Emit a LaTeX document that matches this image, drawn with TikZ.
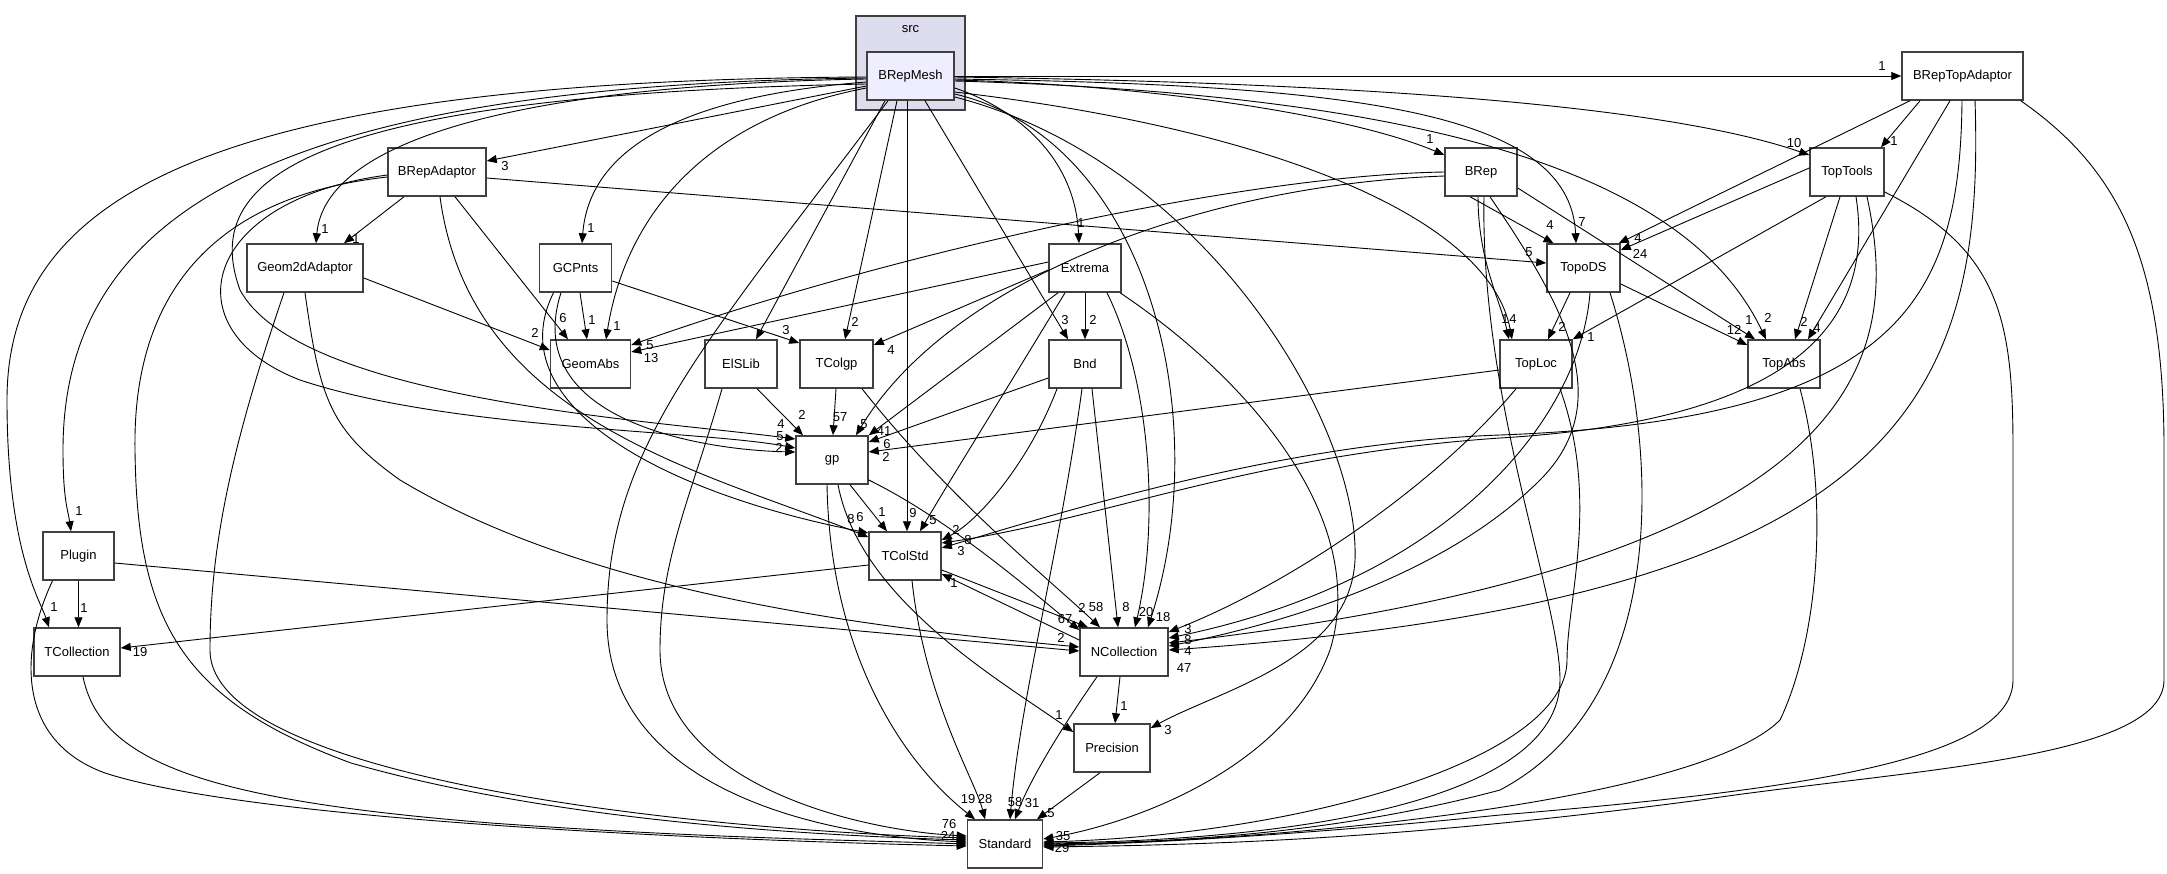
\documentclass[tikz,border=0pt]{standalone}
\usepackage{fontspec}
\setmainfont{Liberation Sans}
\usetikzlibrary{arrows.meta}
\definecolor{bord}{HTML}{404040}
\definecolor{clfill}{HTML}{DDDDEE}
\definecolor{bmfill}{HTML}{EEEEFF}
\begin{document}
\begin{tikzpicture}[x=1pt,y=-1pt,
  box/.style={draw=bord, line width=1.5pt, fill=white, minimum height=48pt, inner sep=0pt, font=\fontsize{13}{13}\selectfont},
  e/.style={line width=0.9pt, -{Triangle[length=10pt,width=8pt]}},
  lbl/.style={inner sep=0pt, text height=9.4pt, text depth=0pt, font=\fontsize{13}{13}\selectfont}]
\useasboundingbox[fill=white] (0,0) rectangle (2167,873);
% cluster
\node[draw=bord, line width=1.5pt, fill=clfill, minimum width=109pt, minimum height=94pt, inner sep=0pt] (cl) at (910.5,63) {};
\node[lbl] (srclbl) at (910.5,28) {src};
% nodes
\node[box, minimum width=87pt, fill=bmfill] (BM) at (910.5,76) {BRepMesh};
\node[box, minimum width=121pt] (BTA) at (1962.5,76) {BRepTopAdaptor};
\node[box, minimum width=98pt] (BA) at (437,172) {BRepAdaptor};
\node[box, minimum width=72pt] (BRep) at (1481,172) {BRep};
\node[box, minimum width=74pt] (TT) at (1847,172) {TopTools};
\node[box, minimum width=116pt] (G2A) at (305,268) {Geom2dAdaptor};
\node[box, minimum width=72pt] (GCP) at (575.5,268) {GCPnts};
\node[box, minimum width=72pt] (Ext) at (1085,268) {Extrema};
\node[box, minimum width=73pt] (TDS) at (1583.5,268) {TopoDS};
\node[box, minimum width=80pt] (GA) at (590.5,364) {GeomAbs};
\node[box, minimum width=72pt] (ELS) at (741,364) {ElSLib};
\node[box, minimum width=73pt] (TCgp) at (836.5,364) {TColgp};
\node[box, minimum width=72pt] (Bnd) at (1085,364) {Bnd};
\node[box, minimum width=72pt] (TL) at (1536,364) {TopLoc};
\node[box, minimum width=72pt] (TA) at (1784,364) {TopAbs};
\node[box, minimum width=72pt] (gp) at (832,460) {gp};
\node[box, minimum width=71pt] (Plugin) at (78.5,556) {Plugin};
\node[box, minimum width=72pt] (TCS) at (905,556) {TColStd};
\node[box, minimum width=86pt] (TC) at (77,652) {TCollection};
\node[box, minimum width=88pt] (NC) at (1124,652) {NCollection};
\node[box, minimum width=76pt] (Prec) at (1112,748) {Precision};
\node[box, minimum width=75pt] (Std) at (1005,844) {Standard};
% ---- edges from BRepMesh
\draw[e] (BM.east) -- (BTA.west);
\draw[e] ([yshift=-10pt]BM.west) -- ([yshift=11pt]BA.east);
\draw[e] ([yshift=-3pt]BM.west) .. controls (520,85) and (325,140) .. ([xshift=11pt]G2A.north);
\draw[e] ([yshift=-6pt]BM.west) .. controls (700,95) and (590,140) .. ([xshift=6.5pt]GCP.north);
\draw[e] ([yshift=-12pt]BM.west) .. controls (700,120) and (625,220) .. ([xshift=15.5pt]GA.north);
\draw[e] ([xshift=-25.5pt]BM.south) -- ([xshift=15pt]ELS.north);
\draw[e] ([xshift=-13.5pt]BM.south) -- ([xshift=8.5pt]TCgp.north);
\draw[e] ([xshift=-3.5pt]BM.south) -- ([xshift=2pt]TCS.north);
\draw[e] ([xshift=14.5pt]BM.south) -- ([xshift=-17pt]Bnd.north);
\draw[e] ([yshift=-12pt]BM.east) .. controls (1020,110) and (1075,160) .. ([xshift=-6pt]Ext.north);
\draw[e] ([yshift=-4pt]BM.east) .. controls (1150,85) and (1350,115) .. ([yshift=17pt]BRep.west);
\draw[e] ([yshift=-1pt]BM.east) .. controls (1300,82) and (1650,100) .. ([yshift=17pt]TT.west);
\draw[e] ([yshift=-3pt]BM.east) .. controls (1350,85) and (1570,110) .. ([xshift=-7.5pt]TDS.north);
\draw[e] ([yshift=-16pt]BM.east) .. controls (1280,130) and (1490,220) .. ([xshift=-24pt]TL.north);
\draw[e] ([yshift=-5pt]BM.east) .. controls (1450,95) and (1690,180) .. ([xshift=-18pt]TA.north);
\draw[e] ([yshift=-18pt]BM.east) .. controls (1150,140) and (1215,420) .. ([xshift=24pt]NC.north);
\draw[e] ([yshift=-21pt]BM.east) .. controls (1200,160) and (1360,420) .. (1355,560) .. controls (1350,660) and (1220,690) .. ([yshift=20pt]Prec.east);
\draw[e] ([xshift=-22.5pt]BM.south) .. controls (700,350) and (607,450) .. (607,620) .. controls (607,780) and (800,835) .. ([yshift=2pt]Std.west);
\draw[e] ([yshift=-8pt]BM.west) .. controls (300,95) and (200,180) .. (240,290) .. controls (300,400) and (650,420) .. ([yshift=21pt]gp.west);
\draw[e] ([yshift=-2pt]BM.west) .. controls (300,85) and (63,200) .. (63,450) .. controls (63,500) and (68,510) .. ([xshift=-7.5pt]Plugin.north);
\draw[e] ([yshift=-1pt]BM.west) .. controls (200,80) and (7,200) .. (7,400) .. controls (7,550) and (40,600) .. ([xshift=-28pt]TC.north);
% ---- BRepTopAdaptor
\draw[e] ([xshift=-42.5pt]BTA.south) -- ([xshift=34pt]TT.north);
\draw[e] ([xshift=-52.5pt]BTA.south) -- ([xshift=-2pt]TDS.north east);
\draw[e] ([xshift=-12.5pt]BTA.south) -- ([xshift=24pt]TA.north);
\draw[e] ([xshift=-0.5pt]BTA.south) .. controls (1960,300) and (1900,420) .. (1500,435) .. controls (1300,442) and (1100,500) .. ([yshift=8pt]TCS.east);
\draw[e] ([xshift=12.5pt]BTA.south) .. controls (1985,400) and (1900,600) .. ([yshift=2pt]NC.east);
\draw[e] ([xshift=-3pt]BTA.south east) .. controls (2120,170) and (2164,260) .. (2164,450) -- (2164,680) .. controls (2164,760) and (1900,770) .. (1700,800) .. controls (1400,840) and (1200,845) .. ([yshift=-3pt]Std.east);
% ---- TopTools
\draw[e] ([yshift=4pt]TT.west) -- ([yshift=18pt]TDS.east);
\draw[e] ([xshift=-21pt]TT.south) -- (TL.north east);
\draw[e] ([xshift=-7pt]TT.south) -- ([xshift=11pt]TA.north);
\draw[e] ([xshift=9pt]TT.south) .. controls (1875,320) and (1800,420) .. (1500,438) .. controls (1250,455) and (1100,520) .. ([yshift=13pt]TCS.east);
\draw[e] ([xshift=20pt]TT.south) .. controls (1900,350) and (1880,560) .. ([yshift=9pt]NC.east);
\draw[e] ([yshift=-20pt]TT.east) .. controls (2000,250) and (2013,320) .. (2013,450) -- (2013,680) .. controls (2013,760) and (1800,790) .. (1500,815) .. controls (1300,835) and (1150,843) .. ([yshift=-2pt]Std.east);
% ---- BRep
\draw[e] (BRep.west) .. controls (1250,175) and (900,250) .. ([yshift=19pt]GA.east);
\draw[e] ([yshift=-4pt]BRep.west) .. controls (1200,185) and (950,280) .. ([xshift=24pt]gp.north);
\draw[e] ([xshift=-11pt]BRep.south) -- ([xshift=-30pt]TDS.north);
\draw[e] ([xshift=-3pt]BRep.south) .. controls (1478,260) and (1500,300) .. ([xshift=-27pt]TL.north);
\draw[e] ([yshift=-16pt]BRep.east) -- ([xshift=-29pt]TA.north);
\draw[e] ([xshift=9pt]BRep.south) .. controls (1560,300) and (1620,400) .. (1540,480) .. controls (1450,570) and (1300,620) .. ([yshift=6pt]NC.east);
\draw[e] ([xshift=3pt]BRep.south) .. controls (1480,400) and (1560,600) .. (1560,680) .. controls (1560,800) and (1300,840) .. ([yshift=1pt]Std.east);
% ---- BRepAdaptor
\draw[e] ([xshift=-33pt]BA.south) -- ([xshift=39pt]G2A.north);
\draw[e] ([xshift=18pt]BA.south) -- ([xshift=-22.5pt]GA.north);
\draw[e] ([yshift=-6pt]BA.east) -- ([yshift=5pt]TDS.west);
\draw[e] ([xshift=3pt]BA.south) .. controls (470,420) and (700,470) .. ([yshift=19pt]TCS.west);
\draw[e] ([yshift=-3pt]BA.west) .. controls (200,200) and (170,330) .. (300,380) .. controls (450,430) and (700,430) .. ([yshift=12pt]gp.west);
\draw[e] ([yshift=-5pt]BA.west) .. controls (180,200) and (133,330) .. (135,450) .. controls (137,620) and (180,700) .. (351,763) .. controls (550,820) and (800,835) .. ([yshift=4pt]Std.west);
% ---- Geom2dAdaptor
\draw[e] ([yshift=-10pt]G2A.east) -- ([yshift=14pt]GA.west);
\draw[e] ([xshift=-21pt]G2A.south) .. controls (230,450) and (210,550) .. (210,650) .. controls (210,780) and (700,830) .. ([yshift=6pt]Std.west);
\draw[e] (G2A.south) .. controls (320,400) and (330,430) .. (400,480) .. controls (600,600) and (900,630) .. ([yshift=5pt]NC.west);
% ---- GCPnts
\draw[e] ([xshift=4.5pt]GCP.south) -- ([xshift=-3.5pt]GA.north);
\draw[e] ([yshift=-13pt]GCP.east) -- ([yshift=21pt]TCgp.west);
\draw[e] ([xshift=-14.5pt]GCP.south) .. controls (520,420) and (700,450) .. ([yshift=8pt]gp.west);
\draw[e] ([xshift=-22pt]GCP.south) .. controls (500,400) and (650,490) .. ([yshift=23pt]TCS.west);
% ---- Extrema
\draw[e] ([yshift=6pt]Ext.west) -- ([yshift=12pt]GA.east);
\draw[e] ([yshift=-2pt]Ext.west) -- ([yshift=19pt]TCgp.east);
\draw[e] (Ext.south) -- (Bnd.north);
\draw[e] ([xshift=-27pt]Ext.south) -- (gp.north east);
\draw[e] ([xshift=-20pt]Ext.south) .. controls (1000,400) and (950,480) .. ([xshift=15pt]TCS.north);
\draw[e] ([xshift=22pt]Ext.south) .. controls (1150,380) and (1160,520) .. ([xshift=11pt]NC.north);
\draw[e] ([xshift=35pt]Ext.south) .. controls (1250,380) and (1370,520) .. (1330,650) .. controls (1290,760) and (1150,820) .. ([yshift=5pt]Std.east);
% ---- TopoDS
\draw[e] ([xshift=-13.5pt]TDS.south) -- ([xshift=12pt]TL.north);
\draw[e] ([yshift=-16pt]TDS.east) -- ([yshift=19pt]TA.west);
\draw[e] ([xshift=6.5pt]TDS.south) .. controls (1580,420) and (1450,580) .. ([yshift=14pt]NC.east);
\draw[e] ([xshift=26.5pt]TDS.south) .. controls (1660,450) and (1670,700) .. (1500,790) .. controls (1350,830) and (1200,842) .. (Std.east);
% ---- TopLoc
\draw[e] ([yshift=-6pt]TL.west) -- ([yshift=8pt]gp.east);
\draw[e] ([xshift=-20pt]TL.south) .. controls (1440,480) and (1300,580) .. ([yshift=20pt]NC.east);
\draw[e] ([xshift=24pt]TL.south) .. controls (1600,500) and (1567,600) .. (1567,660) .. controls (1567,760) and (1300,835) .. ([yshift=2pt]Std.east);
% ---- TopAbs
\draw[e] ([xshift=16pt]TA.south) .. controls (1830,500) and (1818,640) .. (1780,720) .. controls (1700,800) and (1300,840) .. ([yshift=-1pt]Std.east);
% ---- Bnd
\draw[e] ([yshift=-14pt]Bnd.west) -- ([yshift=18pt]gp.east);
\draw[e] ([xshift=-28pt]Bnd.south) .. controls (1030,460) and (980,520) .. ([yshift=16pt]TCS.east);
\draw[e] ([xshift=7pt]Bnd.south) -- ([xshift=-6pt]NC.north);
\draw[e] ([xshift=-3pt]Bnd.south) .. controls (1060,550) and (1020,700) .. ([xshift=5pt]Std.north);
% ---- ElSLib
\draw[e] ([xshift=16pt]ELS.south) -- ([xshift=-29pt]gp.north);
\draw[e] ([xshift=-19pt]ELS.south) .. controls (690,500) and (660,560) .. (660,650) .. controls (660,780) and (850,830) .. ([yshift=8pt]Std.west);
% ---- TColgp
\draw[e] ([xshift=-0.5pt]TCgp.south) -- ([xshift=1pt]gp.north);
\draw[e] ([xshift=25.5pt]TCgp.south) .. controls (950,500) and (1050,580) .. ([xshift=-24pt]NC.north);
% ---- gp
\draw[e] ([xshift=18pt]gp.south) -- ([xshift=-18pt]TCS.north);
\draw[e] ([yshift=-20pt]gp.east) .. controls (950,520) and (1030,590) .. ([yshift=22pt]NC.west);
\draw[e] ([xshift=-5pt]gp.south) .. controls (830,650) and (900,760) .. ([xshift=-30pt]Std.north);
\draw[e] ([xshift=6pt]gp.south) .. controls (860,600) and (1000,680) .. ([yshift=16pt]Prec.west);
% ---- TColStd
\draw[e] ([yshift=-9pt]TCS.west) -- ([yshift=4pt]TC.east);
\draw[e] ([yshift=-14pt]TCS.east) -- ([xshift=-36pt]NC.north);
\draw[e] ([xshift=7pt]TCS.south) .. controls (925,700) and (975,780) .. ([xshift=-20pt]Std.north);
% ---- NCollection
\draw[e] ([yshift=12pt]NC.west) -- ([yshift=-18pt]TCS.east);
\draw[e] ([xshift=-4pt]NC.south) -- ([xshift=3pt]Prec.north);
\draw[e] ([xshift=-27pt]NC.south) .. controls (1060,730) and (1030,780) .. ([xshift=10pt]Std.north);
% ---- Precision
\draw[e] ([xshift=-12pt]Prec.south) -- ([xshift=32pt]Std.north);
% ---- Plugin
\draw[e] (Plugin.south) -- ([xshift=1.5pt]TC.north);
\draw[e] ([yshift=-7pt]Plugin.east) -- ([yshift=1pt]NC.west);
\draw[e] ([xshift=-26pt]Plugin.south) .. controls (20,650) and (15,740) .. (105,773) .. controls (250,820) and (700,840) .. ([yshift=-2pt]Std.west);
% ---- TCollection
\draw[e] ([xshift=6pt]TC.south) .. controls (100,760) and (200,800) .. (491,823) .. controls (700,838) and (850,840) .. (Std.west);
% ---- labels
\node[lbl] (l1) at (1882,66) {1};
\node[lbl] (l2) at (505,166) {3};
\node[lbl] (l3) at (325,229) {1};
\node[lbl] (l4) at (591,228) {1};
\node[lbl] (l5) at (617,326) {1};
\node[lbl] (l7) at (855,322) {2};
\node[lbl] (l8) at (913,513) {9};
\node[lbl] (l9) at (1065,320) {3};
\node[lbl] (l10) at (1081,223) {1};
\node[lbl] (l11) at (1430,139) {1};
\node[lbl] (l12) at (1794,143) {10};
\node[lbl] (l13) at (1582,222) {7};
\node[lbl] (l14) at (1513,319) {4};
\node[lbl] (l15) at (1768,318) {2};
\node[lbl] (l16) at (1163,617) {18};
\node[lbl] (l17) at (1168,730) {3};
\node[lbl] (l19) at (781,424) {4};
\node[lbl] (l20) at (79,511) {1};
\node[lbl] (l21) at (54,607) {1};
\node[lbl] (l22) at (1894,141) {1};
\node[lbl] (l23) at (1638,238) {4};
\node[lbl] (l24) at (1817,328) {4};
\node[lbl] (l25) at (961,551) {3};
\node[lbl] (l26) at (1184,668) {47};
\node[lbl] (l28) at (1640,254) {24};
\node[lbl] (l29) at (1591,337) {1};
\node[lbl] (l30) at (1804,322) {2};
\node[lbl] (l31) at (968,540) {8};
\node[lbl] (l32) at (1188,651) {4};
\node[lbl] (l34) at (650,345) {5};
\node[lbl] (l35) at (864,424) {5};
\node[lbl] (l36) at (1550,225) {4};
\node[lbl] (l37) at (1505,319) {1};
\node[lbl] (l38) at (1749,320) {1};
\node[lbl] (l41) at (356,239) {1};
\node[lbl] (l42) at (563,318) {6};
\node[lbl] (l43) at (1529,252) {5};
\node[lbl] (l44) at (860,517) {6};
\node[lbl] (l45) at (780,436) {5};
\node[lbl] (l48) at (535,333) {2};
\node[lbl] (l50) at (1061,638) {2};
\node[lbl] (l51) at (592,320) {1};
\node[lbl] (l52) at (786,330) {3};
\node[lbl] (l53) at (779,448) {2};
\node[lbl] (l54) at (851,519) {8};
\node[lbl] (l55) at (651,358) {13};
\node[lbl] (l56) at (891,350) {4};
\node[lbl] (l57) at (1093,320) {2};
\node[lbl] (l58) at (884,431) {41};
\node[lbl] (l59) at (933,520) {5};
\node[lbl] (l60) at (1146,612) {20};
\node[lbl] (l62) at (1562,327) {2};
\node[lbl] (l63) at (1734,330) {12};
\node[lbl] (l64) at (1188,640) {8};
\node[lbl] (l66) at (886,457) {2};
\node[lbl] (l67) at (1188,629) {3};
\node[lbl] (l70) at (887,444) {6};
\node[lbl] (l71) at (956,530) {2};
\node[lbl] (l72) at (1126,607) {8};
\node[lbl] (l73) at (1015,802) {58};
\node[lbl] (l74) at (802,415) {2};
\node[lbl] (l76) at (840,417) {57};
\node[lbl] (l77) at (1096,607) {58};
\node[lbl] (l78) at (882,512) {1};
\node[lbl] (l79) at (1065,619) {67};
\node[lbl] (l80) at (968,799) {19};
\node[lbl] (l81) at (1059,715) {1};
\node[lbl] (l82) at (140,652) {19};
\node[lbl] (l83) at (1082,608) {2};
\node[lbl] (l84) at (985,799) {28};
\node[lbl] (l85) at (954,583) {1};
\node[lbl] (l86) at (1124,706) {1};
\node[lbl] (l87) at (1032,803) {31};
\node[lbl] (l88) at (1051,813) {5};
\node[lbl] (l89) at (84,608) {1};
\node[lbl] (l90) at (949,824) {76};
\node[lbl] (l91) at (948,836) {24};
\node[lbl] (l92) at (1063,836) {35};
\node[lbl] (l93) at (1062,848) {29};
\end{tikzpicture}
\end{document}
